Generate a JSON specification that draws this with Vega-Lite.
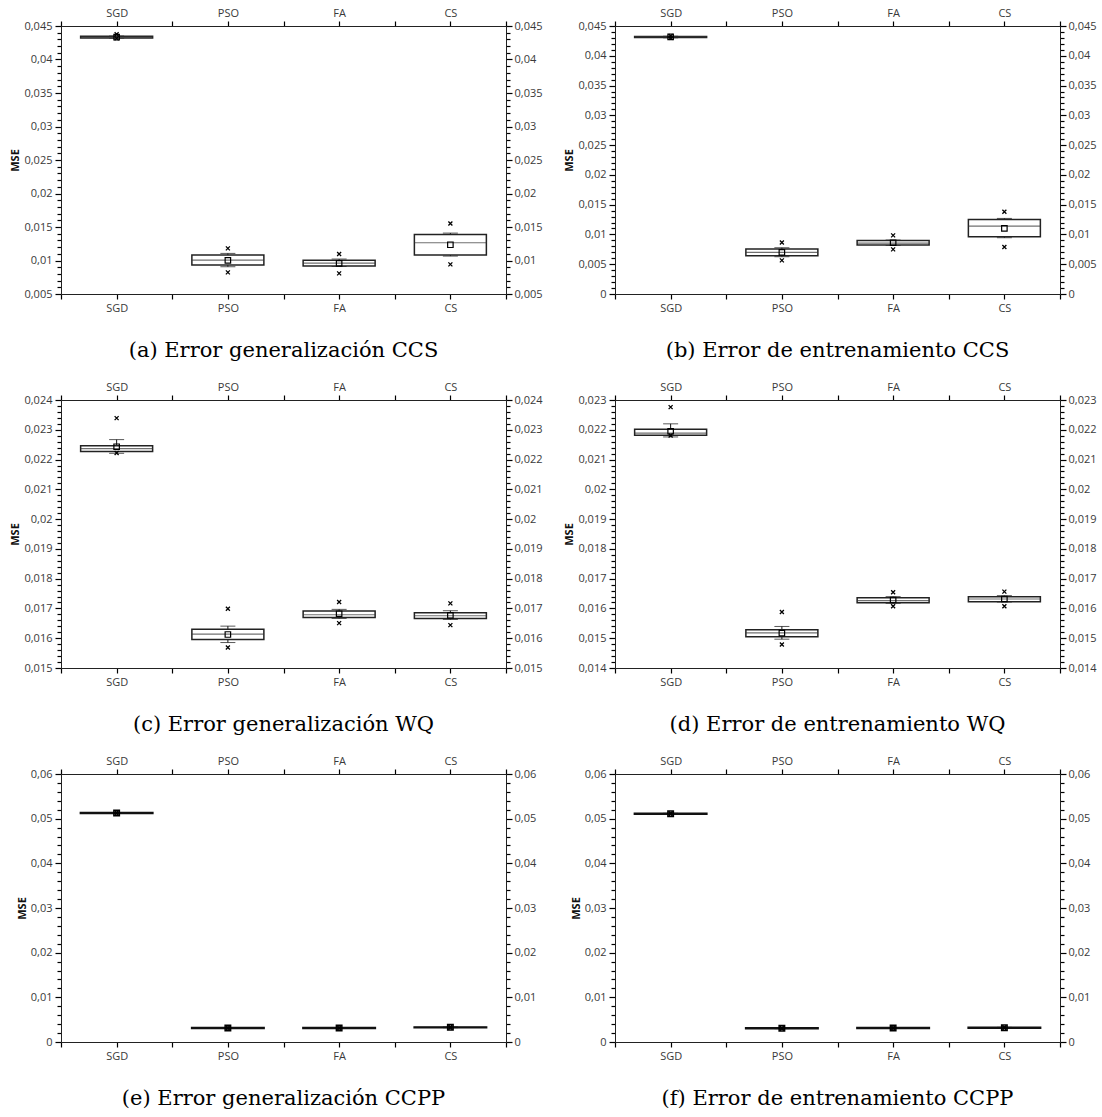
{
"$schema": "https://vega.github.io/schema/vega-lite/v6.json",
"padding": {"left": 9, "top": 7, "right": 5, "bottom": 5},
"config": {
 "view": {"stroke": null},
 "axis": {"grid": false, "domainColor": "#222", "tickColor": "#000", "domainWidth": 1, "tickWidth": 1.2, "labelFont": "Open Sans", "labelFontSize": 11, "labelColor": "#3a3a3a", "titleFont": "Open Sans", "titleFontSize": 11, "titleFontWeight": "bold", "titleColor": "#111", "labelOverlap": false},
 "title": {"font": "DejaVu Serif", "fontSize": 21, "fontWeight": "normal", "color": "#000", "orient": "bottom", "offset": 27, "anchor": "middle"}
},
"datasets": {
 "a": [
  {"alg":"SGD","lo":0.0432,"q1":0.04322,"med":0.04335,"q3":0.04348,"hi":0.0435,"mean":0.04335,"min":0.04315,"max":0.04378},
  {"alg":"PSO","lo":0.00907,"q1":0.00932,"med":0.01007,"q3":0.01081,"hi":0.01106,"mean":0.01003,"min":0.00823,"max":0.01181},
  {"alg":"FA","lo":0.00912,"q1":0.00917,"med":0.00962,"q3":0.01002,"hi":0.01022,"mean":0.00957,"min":0.00808,"max":0.01096},
  {"alg":"CS","lo":0.01066,"q1":0.01081,"med":0.01265,"q3":0.01389,"hi":0.01409,"mean":0.01235,"min":0.00942,"max":0.01553}
 ],
 "b": [
  {"alg":"SGD","lo":0.04302,"q1":0.04305,"med":0.04316,"q3":0.04325,"hi":0.04328,"mean":0.04316,"min":0.043,"max":0.04332},
  {"alg":"PSO","lo":0.00626,"q1":0.00643,"med":0.00699,"q3":0.00755,"hi":0.00777,"mean":0.00699,"min":0.00565,"max":0.00866},
  {"alg":"FA","lo":0.00818,"q1":0.00822,"med":0.00855,"q3":0.009,"hi":0.00906,"mean":0.00861,"min":0.00749,"max":0.00984},
  {"alg":"CS","lo":0.00945,"q1":0.00962,"med":0.0114,"q3":0.01252,"hi":0.01269,"mean":0.01101,"min":0.00788,"max":0.01381}
 ],
 "c": [
  {"alg":"SGD","lo":0.02221,"q1":0.02227,"med":0.02237,"q3":0.02246,"hi":0.02267,"mean":0.02243,"min":0.02222,"max":0.02339},
  {"alg":"PSO","lo":0.015855,"q1":0.015956,"med":0.016136,"q3":0.016305,"hi":0.016406,"mean":0.016125,"min":0.015686,"max":0.016991},
  {"alg":"FA","lo":0.016665,"q1":0.016699,"med":0.016789,"q3":0.016913,"hi":0.016969,"mean":0.016823,"min":0.016508,"max":0.017216},
  {"alg":"CS","lo":0.016631,"q1":0.016665,"med":0.016755,"q3":0.016856,"hi":0.016924,"mean":0.016766,"min":0.01644,"max":0.017171}
 ],
 "d": [
  {"alg":"SGD","lo":0.02176,"q1":0.02182,"med":0.02189,"q3":0.02202,"hi":0.0222,"mean":0.02195,"min":0.02181,"max":0.02276},
  {"alg":"PSO","lo":0.014968,"q1":0.015046,"med":0.015181,"q3":0.015283,"hi":0.015395,"mean":0.01517,"min":0.014788,"max":0.015879},
  {"alg":"FA","lo":0.016172,"q1":0.016194,"med":0.016261,"q3":0.016363,"hi":0.016396,"mean":0.016284,"min":0.016071,"max":0.016543},
  {"alg":"CS","lo":0.016217,"q1":0.016228,"med":0.016318,"q3":0.016396,"hi":0.01643,"mean":0.016318,"min":0.016071,"max":0.016565}
 ],
 "e": [
  {"alg":"SGD","lo":0.05115,"q1":0.0512,"med":0.05125,"q3":0.0513,"hi":0.05135,"mean":0.05125,"min":0.05112,"max":0.05138},
  {"alg":"PSO","lo":0.00306,"q1":0.0031,"med":0.00314,"q3":0.00318,"hi":0.00322,"mean":0.00314,"min":0.00303,"max":0.00325},
  {"alg":"FA","lo":0.00306,"q1":0.0031,"med":0.00314,"q3":0.00318,"hi":0.00322,"mean":0.00314,"min":0.00303,"max":0.00325},
  {"alg":"CS","lo":0.00321,"q1":0.00325,"med":0.00329,"q3":0.00333,"hi":0.00337,"mean":0.00329,"min":0.00318,"max":0.0034}
 ],
 "f": [
  {"alg":"SGD","lo":0.051,"q1":0.05105,"med":0.0511,"q3":0.05115,"hi":0.0512,"mean":0.0511,"min":0.05097,"max":0.05123},
  {"alg":"PSO","lo":0.00299,"q1":0.00303,"med":0.00307,"q3":0.00311,"hi":0.00315,"mean":0.00307,"min":0.00296,"max":0.00318},
  {"alg":"FA","lo":0.00306,"q1":0.0031,"med":0.00314,"q3":0.00318,"hi":0.00322,"mean":0.00314,"min":0.00303,"max":0.00325},
  {"alg":"CS","lo":0.00312,"q1":0.00316,"med":0.0032,"q3":0.00324,"hi":0.00328,"mean":0.0032,"min":0.00309,"max":0.00331}
 ]
},
"columns": 2,
"bounds": "flush",
"spacing": {"row": 106, "column": 109},
"concat": [
 {
  "width": 445, "height": 268,
  "title": {"text": "(a) Error generalización CCS"},
  "data": {"name": "a"},
  "resolve": {"axis": {"x": "independent", "y": "independent"}},
  "layer": [
   {"mark": {"type": "rule", "color": "#111", "strokeWidth": 1},
    "encoding": {
     "x": {"field":"alg","type":"nominal","scale":{"type":"point","domain":["e0","SGD","e1","PSO","e2","FA","e3","CS","e4"],"padding":0},"axis":{"orient":"bottom","title":null,"labelAngle":0,"tickSize":5,"labelPadding":3,"labelExpr":"indexof(['SGD','PSO','FA','CS'], datum.value) >= 0 ? datum.value : ''"}},
     "y": {"field":"lo","type":"quantitative","scale":{"domain":[0.005,0.045],"nice":false,"zero":false},"axis":{"orient":"left","title":"MSE","values":[0.005,0.006,0.007,0.008,0.009,0.01,0.011,0.012,0.013,0.014,0.015,0.016,0.017,0.018,0.019,0.02,0.021,0.022,0.023,0.024,0.025,0.026,0.027,0.028,0.029,0.03,0.031,0.032,0.033,0.034,0.035,0.036,0.037,0.038,0.039,0.04,0.041,0.042,0.043,0.044,0.045],"tickCount":100,"tickSize":{"condition":{"test":"abs(datum.value*200 - round(datum.value*200)) < 0.01","value":6},"value":4},"labelPadding":3,"titlePadding":3,"labelExpr":"abs(datum.value*200 - round(datum.value*200)) < 0.01 ? replace(format(datum.value, '.3~f'), '.', ',') : ''"}},
     "y2": {"field":"hi"}}},
   {"transform": [{"fold": ["lo","hi"], "as": ["k","v"]}],
    "mark": {"type": "tick", "color": "#111", "size": 15, "thickness": 1},
    "encoding": {
     "x": {"field":"alg","type":"nominal","scale":{"type":"point","domain":["e0","SGD","e1","PSO","e2","FA","e3","CS","e4"],"padding":0},"axis":{"orient":"top","title":null,"labelAngle":0,"tickSize":5,"labelPadding":3,"labelExpr":"indexof(['SGD','PSO','FA','CS'], datum.value) >= 0 ? datum.value : ''"}},
     "y": {"field":"v","type":"quantitative","scale":{"domain":[0.005,0.045],"nice":false,"zero":false},"axis":{"orient":"right","title":null,"values":[0.005,0.006,0.007,0.008,0.009,0.01,0.011,0.012,0.013,0.014,0.015,0.016,0.017,0.018,0.019,0.02,0.021,0.022,0.023,0.024,0.025,0.026,0.027,0.028,0.029,0.03,0.031,0.032,0.033,0.034,0.035,0.036,0.037,0.038,0.039,0.04,0.041,0.042,0.043,0.044,0.045],"tickCount":100,"tickSize":{"condition":{"test":"abs(datum.value*200 - round(datum.value*200)) < 0.01","value":6},"value":4},"labelPadding":2,"labelExpr":"abs(datum.value*200 - round(datum.value*200)) < 0.01 ? replace(format(datum.value, '.3~f'), '.', ',') : ''"}}}},
   {"mark": {"type": "bar", "fill": "#fff", "stroke": "#222", "strokeWidth": 1.5, "size": 72},
    "encoding": {
     "x": {"field":"alg","type":"nominal","scale":{"type":"point","domain":["e0","SGD","e1","PSO","e2","FA","e3","CS","e4"],"padding":0},"axis":null},
     "y": {"field":"q1","type":"quantitative","scale":{"domain":[0.005,0.045],"nice":false,"zero":false},"axis":null},
     "y2": {"field":"q3"}}},
   {"mark": {"type": "tick", "color": "#333", "size": 72, "thickness": 1.2},
    "encoding": {
     "x": {"field":"alg","type":"nominal","scale":{"type":"point","domain":["e0","SGD","e1","PSO","e2","FA","e3","CS","e4"],"padding":0},"axis":null},
     "y": {"field":"med","type":"quantitative","scale":{"domain":[0.005,0.045],"nice":false,"zero":false},"axis":null}}},
   {"mark": {"type": "point", "shape": "square", "filled": false, "color": "#000", "size": 30, "strokeWidth": 1.2, "opacity": 1},
    "encoding": {
     "x": {"field":"alg","type":"nominal","scale":{"type":"point","domain":["e0","SGD","e1","PSO","e2","FA","e3","CS","e4"],"padding":0},"axis":null},
     "y": {"field":"mean","type":"quantitative","scale":{"domain":[0.005,0.045],"nice":false,"zero":false},"axis":null}}},
   {"transform": [{"fold": ["min","max"], "as": ["k2","v2"]}],
    "mark": {"type": "point", "shape": "M-1,-1L1,1M1,-1L-1,1", "filled": false, "color": "#000", "size": 16, "strokeWidth": 1.3, "opacity": 1},
    "encoding": {
     "x": {"field":"alg","type":"nominal","scale":{"type":"point","domain":["e0","SGD","e1","PSO","e2","FA","e3","CS","e4"],"padding":0},"axis":null},
     "y": {"field":"v2","type":"quantitative","scale":{"domain":[0.005,0.045],"nice":false,"zero":false},"axis":null}}}
  ]
 },
 {
  "width": 445, "height": 268,
  "title": {"text": "(b) Error de entrenamiento CCS"},
  "data": {"name": "b"},
  "resolve": {"axis": {"x": "independent", "y": "independent"}},
  "layer": [
   {"mark": {"type": "rule", "color": "#111", "strokeWidth": 1},
    "encoding": {
     "x": {"field":"alg","type":"nominal","scale":{"type":"point","domain":["e0","SGD","e1","PSO","e2","FA","e3","CS","e4"],"padding":0},"axis":{"orient":"bottom","title":null,"labelAngle":0,"tickSize":5,"labelPadding":3,"labelExpr":"indexof(['SGD','PSO','FA','CS'], datum.value) >= 0 ? datum.value : ''"}},
     "y": {"field":"lo","type":"quantitative","scale":{"domain":[0,0.045],"nice":false,"zero":false},"axis":{"orient":"left","title":"MSE","values":[0,0.001,0.002,0.003,0.004,0.005,0.006,0.007,0.008,0.009,0.01,0.011,0.012,0.013,0.014,0.015,0.016,0.017,0.018,0.019,0.02,0.021,0.022,0.023,0.024,0.025,0.026,0.027,0.028,0.029,0.03,0.031,0.032,0.033,0.034,0.035,0.036,0.037,0.038,0.039,0.04,0.041,0.042,0.043,0.044,0.045],"tickCount":100,"tickSize":{"condition":{"test":"abs(datum.value*200 - round(datum.value*200)) < 0.01","value":6},"value":4},"labelPadding":3,"titlePadding":3,"labelExpr":"abs(datum.value*200 - round(datum.value*200)) < 0.01 ? replace(format(datum.value, '.3~f'), '.', ',') : ''"}},
     "y2": {"field":"hi"}}},
   {"transform": [{"fold": ["lo","hi"], "as": ["k","v"]}],
    "mark": {"type": "tick", "color": "#111", "size": 15, "thickness": 1},
    "encoding": {
     "x": {"field":"alg","type":"nominal","scale":{"type":"point","domain":["e0","SGD","e1","PSO","e2","FA","e3","CS","e4"],"padding":0},"axis":{"orient":"top","title":null,"labelAngle":0,"tickSize":5,"labelPadding":3,"labelExpr":"indexof(['SGD','PSO','FA','CS'], datum.value) >= 0 ? datum.value : ''"}},
     "y": {"field":"v","type":"quantitative","scale":{"domain":[0,0.045],"nice":false,"zero":false},"axis":{"orient":"right","title":null,"values":[0,0.001,0.002,0.003,0.004,0.005,0.006,0.007,0.008,0.009,0.01,0.011,0.012,0.013,0.014,0.015,0.016,0.017,0.018,0.019,0.02,0.021,0.022,0.023,0.024,0.025,0.026,0.027,0.028,0.029,0.03,0.031,0.032,0.033,0.034,0.035,0.036,0.037,0.038,0.039,0.04,0.041,0.042,0.043,0.044,0.045],"tickCount":100,"tickSize":{"condition":{"test":"abs(datum.value*200 - round(datum.value*200)) < 0.01","value":6},"value":4},"labelPadding":2,"labelExpr":"abs(datum.value*200 - round(datum.value*200)) < 0.01 ? replace(format(datum.value, '.3~f'), '.', ',') : ''"}}}},
   {"mark": {"type": "bar", "fill": "#fff", "stroke": "#222", "strokeWidth": 1.5, "size": 72},
    "encoding": {
     "x": {"field":"alg","type":"nominal","scale":{"type":"point","domain":["e0","SGD","e1","PSO","e2","FA","e3","CS","e4"],"padding":0},"axis":null},
     "y": {"field":"q1","type":"quantitative","scale":{"domain":[0,0.045],"nice":false,"zero":false},"axis":null},
     "y2": {"field":"q3"}}},
   {"mark": {"type": "tick", "color": "#333", "size": 72, "thickness": 1.2},
    "encoding": {
     "x": {"field":"alg","type":"nominal","scale":{"type":"point","domain":["e0","SGD","e1","PSO","e2","FA","e3","CS","e4"],"padding":0},"axis":null},
     "y": {"field":"med","type":"quantitative","scale":{"domain":[0,0.045],"nice":false,"zero":false},"axis":null}}},
   {"mark": {"type": "point", "shape": "square", "filled": false, "color": "#000", "size": 30, "strokeWidth": 1.2, "opacity": 1},
    "encoding": {
     "x": {"field":"alg","type":"nominal","scale":{"type":"point","domain":["e0","SGD","e1","PSO","e2","FA","e3","CS","e4"],"padding":0},"axis":null},
     "y": {"field":"mean","type":"quantitative","scale":{"domain":[0,0.045],"nice":false,"zero":false},"axis":null}}},
   {"transform": [{"fold": ["min","max"], "as": ["k2","v2"]}],
    "mark": {"type": "point", "shape": "M-1,-1L1,1M1,-1L-1,1", "filled": false, "color": "#000", "size": 16, "strokeWidth": 1.3, "opacity": 1},
    "encoding": {
     "x": {"field":"alg","type":"nominal","scale":{"type":"point","domain":["e0","SGD","e1","PSO","e2","FA","e3","CS","e4"],"padding":0},"axis":null},
     "y": {"field":"v2","type":"quantitative","scale":{"domain":[0,0.045],"nice":false,"zero":false},"axis":null}}}
  ]
 },
 {
  "width": 445, "height": 268,
  "title": {"text": "(c) Error generalización WQ"},
  "data": {"name": "c"},
  "resolve": {"axis": {"x": "independent", "y": "independent"}},
  "layer": [
   {"mark": {"type": "rule", "color": "#111", "strokeWidth": 1},
    "encoding": {
     "x": {"field":"alg","type":"nominal","scale":{"type":"point","domain":["e0","SGD","e1","PSO","e2","FA","e3","CS","e4"],"padding":0},"axis":{"orient":"bottom","title":null,"labelAngle":0,"tickSize":5,"labelPadding":3,"labelExpr":"indexof(['SGD','PSO','FA','CS'], datum.value) >= 0 ? datum.value : ''"}},
     "y": {"field":"lo","type":"quantitative","scale":{"domain":[0.015,0.024],"nice":false,"zero":false},"axis":{"orient":"left","title":"MSE","values":[0.015,0.0152,0.0154,0.0156,0.0158,0.016,0.0162,0.0164,0.0166,0.0168,0.017,0.0172,0.0174,0.0176,0.0178,0.018,0.0182,0.0184,0.0186,0.0188,0.019,0.0192,0.0194,0.0196,0.0198,0.02,0.0202,0.0204,0.0206,0.0208,0.021,0.0212,0.0214,0.0216,0.0218,0.022,0.0222,0.0224,0.0226,0.0228,0.023,0.0232,0.0234,0.0236,0.0238,0.024],"tickCount":100,"tickSize":{"condition":{"test":"abs(datum.value*1000 - round(datum.value*1000)) < 0.01","value":6},"value":4},"labelPadding":3,"titlePadding":3,"labelExpr":"abs(datum.value*1000 - round(datum.value*1000)) < 0.01 ? replace(format(datum.value, '.3~f'), '.', ',') : ''"}},
     "y2": {"field":"hi"}}},
   {"transform": [{"fold": ["lo","hi"], "as": ["k","v"]}],
    "mark": {"type": "tick", "color": "#111", "size": 15, "thickness": 1},
    "encoding": {
     "x": {"field":"alg","type":"nominal","scale":{"type":"point","domain":["e0","SGD","e1","PSO","e2","FA","e3","CS","e4"],"padding":0},"axis":{"orient":"top","title":null,"labelAngle":0,"tickSize":5,"labelPadding":3,"labelExpr":"indexof(['SGD','PSO','FA','CS'], datum.value) >= 0 ? datum.value : ''"}},
     "y": {"field":"v","type":"quantitative","scale":{"domain":[0.015,0.024],"nice":false,"zero":false},"axis":{"orient":"right","title":null,"values":[0.015,0.0152,0.0154,0.0156,0.0158,0.016,0.0162,0.0164,0.0166,0.0168,0.017,0.0172,0.0174,0.0176,0.0178,0.018,0.0182,0.0184,0.0186,0.0188,0.019,0.0192,0.0194,0.0196,0.0198,0.02,0.0202,0.0204,0.0206,0.0208,0.021,0.0212,0.0214,0.0216,0.0218,0.022,0.0222,0.0224,0.0226,0.0228,0.023,0.0232,0.0234,0.0236,0.0238,0.024],"tickCount":100,"tickSize":{"condition":{"test":"abs(datum.value*1000 - round(datum.value*1000)) < 0.01","value":6},"value":4},"labelPadding":2,"labelExpr":"abs(datum.value*1000 - round(datum.value*1000)) < 0.01 ? replace(format(datum.value, '.3~f'), '.', ',') : ''"}}}},
   {"mark": {"type": "bar", "fill": "#fff", "stroke": "#222", "strokeWidth": 1.5, "size": 72},
    "encoding": {
     "x": {"field":"alg","type":"nominal","scale":{"type":"point","domain":["e0","SGD","e1","PSO","e2","FA","e3","CS","e4"],"padding":0},"axis":null},
     "y": {"field":"q1","type":"quantitative","scale":{"domain":[0.015,0.024],"nice":false,"zero":false},"axis":null},
     "y2": {"field":"q3"}}},
   {"mark": {"type": "tick", "color": "#333", "size": 72, "thickness": 1.2},
    "encoding": {
     "x": {"field":"alg","type":"nominal","scale":{"type":"point","domain":["e0","SGD","e1","PSO","e2","FA","e3","CS","e4"],"padding":0},"axis":null},
     "y": {"field":"med","type":"quantitative","scale":{"domain":[0.015,0.024],"nice":false,"zero":false},"axis":null}}},
   {"mark": {"type": "point", "shape": "square", "filled": false, "color": "#000", "size": 30, "strokeWidth": 1.2, "opacity": 1},
    "encoding": {
     "x": {"field":"alg","type":"nominal","scale":{"type":"point","domain":["e0","SGD","e1","PSO","e2","FA","e3","CS","e4"],"padding":0},"axis":null},
     "y": {"field":"mean","type":"quantitative","scale":{"domain":[0.015,0.024],"nice":false,"zero":false},"axis":null}}},
   {"transform": [{"fold": ["min","max"], "as": ["k2","v2"]}],
    "mark": {"type": "point", "shape": "M-1,-1L1,1M1,-1L-1,1", "filled": false, "color": "#000", "size": 16, "strokeWidth": 1.3, "opacity": 1},
    "encoding": {
     "x": {"field":"alg","type":"nominal","scale":{"type":"point","domain":["e0","SGD","e1","PSO","e2","FA","e3","CS","e4"],"padding":0},"axis":null},
     "y": {"field":"v2","type":"quantitative","scale":{"domain":[0.015,0.024],"nice":false,"zero":false},"axis":null}}}
  ]
 },
 {
  "width": 445, "height": 268,
  "title": {"text": "(d) Error de entrenamiento WQ"},
  "data": {"name": "d"},
  "resolve": {"axis": {"x": "independent", "y": "independent"}},
  "layer": [
   {"mark": {"type": "rule", "color": "#111", "strokeWidth": 1},
    "encoding": {
     "x": {"field":"alg","type":"nominal","scale":{"type":"point","domain":["e0","SGD","e1","PSO","e2","FA","e3","CS","e4"],"padding":0},"axis":{"orient":"bottom","title":null,"labelAngle":0,"tickSize":5,"labelPadding":3,"labelExpr":"indexof(['SGD','PSO','FA','CS'], datum.value) >= 0 ? datum.value : ''"}},
     "y": {"field":"lo","type":"quantitative","scale":{"domain":[0.014,0.023],"nice":false,"zero":false},"axis":{"orient":"left","title":"MSE","values":[0.014,0.0142,0.0144,0.0146,0.0148,0.015,0.0152,0.0154,0.0156,0.0158,0.016,0.0162,0.0164,0.0166,0.0168,0.017,0.0172,0.0174,0.0176,0.0178,0.018,0.0182,0.0184,0.0186,0.0188,0.019,0.0192,0.0194,0.0196,0.0198,0.02,0.0202,0.0204,0.0206,0.0208,0.021,0.0212,0.0214,0.0216,0.0218,0.022,0.0222,0.0224,0.0226,0.0228,0.023],"tickCount":100,"tickSize":{"condition":{"test":"abs(datum.value*1000 - round(datum.value*1000)) < 0.01","value":6},"value":4},"labelPadding":3,"titlePadding":3,"labelExpr":"abs(datum.value*1000 - round(datum.value*1000)) < 0.01 ? replace(format(datum.value, '.3~f'), '.', ',') : ''"}},
     "y2": {"field":"hi"}}},
   {"transform": [{"fold": ["lo","hi"], "as": ["k","v"]}],
    "mark": {"type": "tick", "color": "#111", "size": 15, "thickness": 1},
    "encoding": {
     "x": {"field":"alg","type":"nominal","scale":{"type":"point","domain":["e0","SGD","e1","PSO","e2","FA","e3","CS","e4"],"padding":0},"axis":{"orient":"top","title":null,"labelAngle":0,"tickSize":5,"labelPadding":3,"labelExpr":"indexof(['SGD','PSO','FA','CS'], datum.value) >= 0 ? datum.value : ''"}},
     "y": {"field":"v","type":"quantitative","scale":{"domain":[0.014,0.023],"nice":false,"zero":false},"axis":{"orient":"right","title":null,"values":[0.014,0.0142,0.0144,0.0146,0.0148,0.015,0.0152,0.0154,0.0156,0.0158,0.016,0.0162,0.0164,0.0166,0.0168,0.017,0.0172,0.0174,0.0176,0.0178,0.018,0.0182,0.0184,0.0186,0.0188,0.019,0.0192,0.0194,0.0196,0.0198,0.02,0.0202,0.0204,0.0206,0.0208,0.021,0.0212,0.0214,0.0216,0.0218,0.022,0.0222,0.0224,0.0226,0.0228,0.023],"tickCount":100,"tickSize":{"condition":{"test":"abs(datum.value*1000 - round(datum.value*1000)) < 0.01","value":6},"value":4},"labelPadding":2,"labelExpr":"abs(datum.value*1000 - round(datum.value*1000)) < 0.01 ? replace(format(datum.value, '.3~f'), '.', ',') : ''"}}}},
   {"mark": {"type": "bar", "fill": "#fff", "stroke": "#222", "strokeWidth": 1.5, "size": 72},
    "encoding": {
     "x": {"field":"alg","type":"nominal","scale":{"type":"point","domain":["e0","SGD","e1","PSO","e2","FA","e3","CS","e4"],"padding":0},"axis":null},
     "y": {"field":"q1","type":"quantitative","scale":{"domain":[0.014,0.023],"nice":false,"zero":false},"axis":null},
     "y2": {"field":"q3"}}},
   {"mark": {"type": "tick", "color": "#333", "size": 72, "thickness": 1.2},
    "encoding": {
     "x": {"field":"alg","type":"nominal","scale":{"type":"point","domain":["e0","SGD","e1","PSO","e2","FA","e3","CS","e4"],"padding":0},"axis":null},
     "y": {"field":"med","type":"quantitative","scale":{"domain":[0.014,0.023],"nice":false,"zero":false},"axis":null}}},
   {"mark": {"type": "point", "shape": "square", "filled": false, "color": "#000", "size": 30, "strokeWidth": 1.2, "opacity": 1},
    "encoding": {
     "x": {"field":"alg","type":"nominal","scale":{"type":"point","domain":["e0","SGD","e1","PSO","e2","FA","e3","CS","e4"],"padding":0},"axis":null},
     "y": {"field":"mean","type":"quantitative","scale":{"domain":[0.014,0.023],"nice":false,"zero":false},"axis":null}}},
   {"transform": [{"fold": ["min","max"], "as": ["k2","v2"]}],
    "mark": {"type": "point", "shape": "M-1,-1L1,1M1,-1L-1,1", "filled": false, "color": "#000", "size": 16, "strokeWidth": 1.3, "opacity": 1},
    "encoding": {
     "x": {"field":"alg","type":"nominal","scale":{"type":"point","domain":["e0","SGD","e1","PSO","e2","FA","e3","CS","e4"],"padding":0},"axis":null},
     "y": {"field":"v2","type":"quantitative","scale":{"domain":[0.014,0.023],"nice":false,"zero":false},"axis":null}}}
  ]
 },
 {
  "width": 445, "height": 268,
  "title": {"text": "(e) Error generalización CCPP"},
  "data": {"name": "e"},
  "resolve": {"axis": {"x": "independent", "y": "independent"}},
  "layer": [
   {"mark": {"type": "rule", "color": "#111", "strokeWidth": 1},
    "encoding": {
     "x": {"field":"alg","type":"nominal","scale":{"type":"point","domain":["e0","SGD","e1","PSO","e2","FA","e3","CS","e4"],"padding":0},"axis":{"orient":"bottom","title":null,"labelAngle":0,"tickSize":5,"labelPadding":3,"labelExpr":"indexof(['SGD','PSO','FA','CS'], datum.value) >= 0 ? datum.value : ''"}},
     "y": {"field":"lo","type":"quantitative","scale":{"domain":[0,0.06],"nice":false,"zero":false},"axis":{"orient":"left","title":"MSE","values":[0,0.002,0.004,0.006,0.008,0.01,0.012,0.014,0.016,0.018,0.02,0.022,0.024,0.026,0.028,0.03,0.032,0.034,0.036,0.038,0.04,0.042,0.044,0.046,0.048,0.05,0.052,0.054,0.056,0.058,0.06],"tickCount":100,"tickSize":{"condition":{"test":"abs(datum.value*100 - round(datum.value*100)) < 0.01","value":6},"value":4},"labelPadding":3,"titlePadding":3,"labelExpr":"abs(datum.value*100 - round(datum.value*100)) < 0.01 ? replace(format(datum.value, '.3~f'), '.', ',') : ''"}},
     "y2": {"field":"hi"}}},
   {"transform": [{"fold": ["lo","hi"], "as": ["k","v"]}],
    "mark": {"type": "tick", "color": "#111", "size": 15, "thickness": 1},
    "encoding": {
     "x": {"field":"alg","type":"nominal","scale":{"type":"point","domain":["e0","SGD","e1","PSO","e2","FA","e3","CS","e4"],"padding":0},"axis":{"orient":"top","title":null,"labelAngle":0,"tickSize":5,"labelPadding":3,"labelExpr":"indexof(['SGD','PSO','FA','CS'], datum.value) >= 0 ? datum.value : ''"}},
     "y": {"field":"v","type":"quantitative","scale":{"domain":[0,0.06],"nice":false,"zero":false},"axis":{"orient":"right","title":null,"values":[0,0.002,0.004,0.006,0.008,0.01,0.012,0.014,0.016,0.018,0.02,0.022,0.024,0.026,0.028,0.03,0.032,0.034,0.036,0.038,0.04,0.042,0.044,0.046,0.048,0.05,0.052,0.054,0.056,0.058,0.06],"tickCount":100,"tickSize":{"condition":{"test":"abs(datum.value*100 - round(datum.value*100)) < 0.01","value":6},"value":4},"labelPadding":2,"labelExpr":"abs(datum.value*100 - round(datum.value*100)) < 0.01 ? replace(format(datum.value, '.3~f'), '.', ',') : ''"}}}},
   {"mark": {"type": "bar", "fill": "#fff", "stroke": "#111", "strokeWidth": 2, "size": 72},
    "encoding": {
     "x": {"field":"alg","type":"nominal","scale":{"type":"point","domain":["e0","SGD","e1","PSO","e2","FA","e3","CS","e4"],"padding":0},"axis":null},
     "y": {"field":"q1","type":"quantitative","scale":{"domain":[0,0.06],"nice":false,"zero":false},"axis":null},
     "y2": {"field":"q3"}}},
   {"mark": {"type": "tick", "color": "#111", "size": 72, "thickness": 1.2},
    "encoding": {
     "x": {"field":"alg","type":"nominal","scale":{"type":"point","domain":["e0","SGD","e1","PSO","e2","FA","e3","CS","e4"],"padding":0},"axis":null},
     "y": {"field":"med","type":"quantitative","scale":{"domain":[0,0.06],"nice":false,"zero":false},"axis":null}}},
   {"mark": {"type": "point", "shape": "square", "filled": false, "color": "#000", "size": 30, "strokeWidth": 1.5, "opacity": 1},
    "encoding": {
     "x": {"field":"alg","type":"nominal","scale":{"type":"point","domain":["e0","SGD","e1","PSO","e2","FA","e3","CS","e4"],"padding":0},"axis":null},
     "y": {"field":"mean","type":"quantitative","scale":{"domain":[0,0.06],"nice":false,"zero":false},"axis":null}}},
   {"transform": [{"fold": ["min","max"], "as": ["k2","v2"]}],
    "mark": {"type": "point", "shape": "M-1,-1L1,1M1,-1L-1,1", "filled": false, "color": "#000", "size": 16, "strokeWidth": 1.3, "opacity": 1},
    "encoding": {
     "x": {"field":"alg","type":"nominal","scale":{"type":"point","domain":["e0","SGD","e1","PSO","e2","FA","e3","CS","e4"],"padding":0},"axis":null},
     "y": {"field":"v2","type":"quantitative","scale":{"domain":[0,0.06],"nice":false,"zero":false},"axis":null}}}
  ]
 },
 {
  "width": 445, "height": 268,
  "title": {"text": "(f) Error de entrenamiento CCPP"},
  "data": {"name": "f"},
  "resolve": {"axis": {"x": "independent", "y": "independent"}},
  "layer": [
   {"mark": {"type": "rule", "color": "#111", "strokeWidth": 1},
    "encoding": {
     "x": {"field":"alg","type":"nominal","scale":{"type":"point","domain":["e0","SGD","e1","PSO","e2","FA","e3","CS","e4"],"padding":0},"axis":{"orient":"bottom","title":null,"labelAngle":0,"tickSize":5,"labelPadding":3,"labelExpr":"indexof(['SGD','PSO','FA','CS'], datum.value) >= 0 ? datum.value : ''"}},
     "y": {"field":"lo","type":"quantitative","scale":{"domain":[0,0.06],"nice":false,"zero":false},"axis":{"orient":"left","title":"MSE","values":[0,0.002,0.004,0.006,0.008,0.01,0.012,0.014,0.016,0.018,0.02,0.022,0.024,0.026,0.028,0.03,0.032,0.034,0.036,0.038,0.04,0.042,0.044,0.046,0.048,0.05,0.052,0.054,0.056,0.058,0.06],"tickCount":100,"tickSize":{"condition":{"test":"abs(datum.value*100 - round(datum.value*100)) < 0.01","value":6},"value":4},"labelPadding":3,"titlePadding":3,"labelExpr":"abs(datum.value*100 - round(datum.value*100)) < 0.01 ? replace(format(datum.value, '.3~f'), '.', ',') : ''"}},
     "y2": {"field":"hi"}}},
   {"transform": [{"fold": ["lo","hi"], "as": ["k","v"]}],
    "mark": {"type": "tick", "color": "#111", "size": 15, "thickness": 1},
    "encoding": {
     "x": {"field":"alg","type":"nominal","scale":{"type":"point","domain":["e0","SGD","e1","PSO","e2","FA","e3","CS","e4"],"padding":0},"axis":{"orient":"top","title":null,"labelAngle":0,"tickSize":5,"labelPadding":3,"labelExpr":"indexof(['SGD','PSO','FA','CS'], datum.value) >= 0 ? datum.value : ''"}},
     "y": {"field":"v","type":"quantitative","scale":{"domain":[0,0.06],"nice":false,"zero":false},"axis":{"orient":"right","title":null,"values":[0,0.002,0.004,0.006,0.008,0.01,0.012,0.014,0.016,0.018,0.02,0.022,0.024,0.026,0.028,0.03,0.032,0.034,0.036,0.038,0.04,0.042,0.044,0.046,0.048,0.05,0.052,0.054,0.056,0.058,0.06],"tickCount":100,"tickSize":{"condition":{"test":"abs(datum.value*100 - round(datum.value*100)) < 0.01","value":6},"value":4},"labelPadding":2,"labelExpr":"abs(datum.value*100 - round(datum.value*100)) < 0.01 ? replace(format(datum.value, '.3~f'), '.', ',') : ''"}}}},
   {"mark": {"type": "bar", "fill": "#fff", "stroke": "#111", "strokeWidth": 2, "size": 72},
    "encoding": {
     "x": {"field":"alg","type":"nominal","scale":{"type":"point","domain":["e0","SGD","e1","PSO","e2","FA","e3","CS","e4"],"padding":0},"axis":null},
     "y": {"field":"q1","type":"quantitative","scale":{"domain":[0,0.06],"nice":false,"zero":false},"axis":null},
     "y2": {"field":"q3"}}},
   {"mark": {"type": "tick", "color": "#111", "size": 72, "thickness": 1.2},
    "encoding": {
     "x": {"field":"alg","type":"nominal","scale":{"type":"point","domain":["e0","SGD","e1","PSO","e2","FA","e3","CS","e4"],"padding":0},"axis":null},
     "y": {"field":"med","type":"quantitative","scale":{"domain":[0,0.06],"nice":false,"zero":false},"axis":null}}},
   {"mark": {"type": "point", "shape": "square", "filled": false, "color": "#000", "size": 30, "strokeWidth": 1.5, "opacity": 1},
    "encoding": {
     "x": {"field":"alg","type":"nominal","scale":{"type":"point","domain":["e0","SGD","e1","PSO","e2","FA","e3","CS","e4"],"padding":0},"axis":null},
     "y": {"field":"mean","type":"quantitative","scale":{"domain":[0,0.06],"nice":false,"zero":false},"axis":null}}},
   {"transform": [{"fold": ["min","max"], "as": ["k2","v2"]}],
    "mark": {"type": "point", "shape": "M-1,-1L1,1M1,-1L-1,1", "filled": false, "color": "#000", "size": 16, "strokeWidth": 1.3, "opacity": 1},
    "encoding": {
     "x": {"field":"alg","type":"nominal","scale":{"type":"point","domain":["e0","SGD","e1","PSO","e2","FA","e3","CS","e4"],"padding":0},"axis":null},
     "y": {"field":"v2","type":"quantitative","scale":{"domain":[0,0.06],"nice":false,"zero":false},"axis":null}}}
  ]
 }
]
}
